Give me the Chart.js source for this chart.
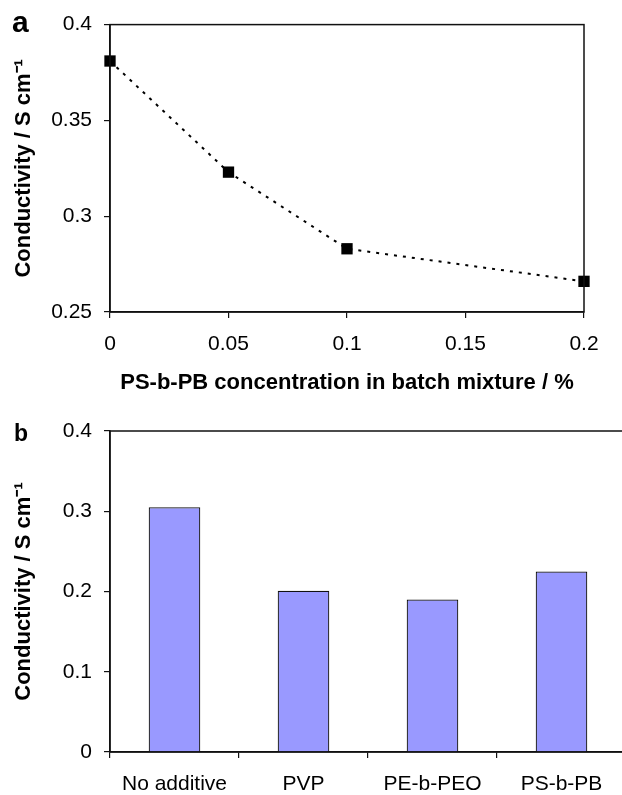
<!DOCTYPE html>
<html>
<head>
<meta charset="utf-8">
<script src="https://cdn.jsdelivr.net/npm/chart.js@4.4.0/dist/chart.umd.min.js"></script>
<style>
  html, body { margin: 0; padding: 0; background: #fff; overflow: hidden; }
  body { width: 622px; height: 795px; position: relative; }
  .panel { position: absolute; left: 0; }
  .letra { position: absolute; font-family: "Liberation Sans", Arial, sans-serif; font-weight: bold; line-height: 1; color: #000; }
</style>
</head>
<body>
<div class="panel" style="top:0"><canvas id="chartA" width="622" height="400"></canvas></div>
<div class="panel" style="top:400px"><canvas id="chartB" width="640" height="395"></canvas></div>
<div class="letra" style="left:12px; top:7px; font-size:30px">a</div>
<div class="letra" style="left:14px; top:422px; font-size:23px">b</div>
<script>
/* datos del panel a */
const concentraciones = [0, 0.05, 0.1, 0.2];
const conductividadA = [0.381, 0.323, 0.283, 0.266];
const ticksYA = [0.25, 0.3, 0.35, 0.4];
const ticksXA = [0, 0.05, 0.1, 0.15, 0.2];

/* datos del panel b */
const aditivos = ["No additive", "PVP", "PE-b-PEO", "PS-b-PB"];
const conductividadB = [0.305, 0.201, 0.190, 0.225];
const ticksYB = [0, 0.1, 0.2, 0.3, 0.4];

const fuente = "'Liberation Sans', Arial, sans-serif";
const tituloY = "Conductivity / S cm\u207B\u00B9";

function etiqueta(v) {
  return String(+Number(v).toFixed(4));
}

/* dibuja el marco alrededor del area del grafico */
const marco = {
  id: "marco",
  afterDraw(chart) {
    const a = chart.chartArea;
    const ctx = chart.ctx;
    ctx.save();
    ctx.strokeStyle = "#111";
    ctx.lineWidth = 1.5;
    ctx.strokeRect(a.left, a.top, a.right - a.left, a.bottom - a.top);
    ctx.restore();
  }
};

function ejeComun() {
  return {
    border: { display: true, color: "#111", width: 1.5 },
    grid: { display: true, drawOnChartArea: false, drawTicks: true, tickLength: 6, color: "#111", lineWidth: 1.2 },
    ticks: { color: "#000", font: { family: fuente, size: 21 } }
  };
}

function tituloEje(texto, relleno) {
  return {
    display: true,
    text: texto,
    color: "#000",
    font: { family: fuente, size: 22, weight: "bold" },
    padding: relleno
  };
}

/* GRAFICO a */
const ejeXA = ejeComun();
ejeXA.type = "linear";
ejeXA.min = 0;
ejeXA.max = 0.2;
ejeXA.afterBuildTicks = s => { s.ticks = ticksXA.map(v => ({ value: v })); };
ejeXA.afterFit = s => { s.height = 88; };
ejeXA.ticks.padding = 14;
ejeXA.ticks.callback = v => etiqueta(v);
ejeXA.title = tituloEje("PS-b-PB concentration in batch mixture / %", { top: 0, bottom: 4 });

const ejeYA = ejeComun();
ejeYA.min = 0.25;
ejeYA.max = 0.4;
ejeYA.afterBuildTicks = s => { s.ticks = ticksYA.map(v => ({ value: v })); };
ejeYA.afterFit = s => { s.width = 110; };
ejeYA.ticks.padding = 12;
ejeYA.ticks.callback = v => etiqueta(v);
ejeYA.title = tituloEje(tituloY, { top: 11, bottom: 0 });

new Chart(document.getElementById("chartA"), {
  type: "line",
  data: {
    datasets: [{
      data: concentraciones.map((x, i) => ({ x: x, y: conductividadA[i] })),
      borderColor: "#000",
      borderWidth: 2,
      borderDash: [3, 6],
      pointStyle: "rect",
      pointRadius: 8,
      pointBackgroundColor: "#000",
      pointBorderColor: "#000",
      pointBorderWidth: 0,
      tension: 0,
      clip: false
    }]
  },
  options: {
    responsive: false,
    animation: false,
    devicePixelRatio: 1,
    layout: { padding: { top: 20, right: 38, left: 0, bottom: 0 } },
    plugins: { legend: { display: false }, tooltip: { enabled: false } },
    scales: { x: ejeXA, y: ejeYA }
  },
  plugins: [marco]
});

/* GRAFICO b */
const ejeXB = ejeComun();
ejeXB.offset = true;
ejeXB.grid.offset = true;
ejeXB.afterFit = s => { s.height = 43; };
ejeXB.ticks.padding = 14;

const ejeYB = ejeComun();
ejeYB.min = 0;
ejeYB.max = 0.4;
ejeYB.afterBuildTicks = s => { s.ticks = ticksYB.map(v => ({ value: v })); };
ejeYB.afterFit = s => { s.width = 110; };
ejeYB.ticks.padding = 12;
ejeYB.ticks.callback = v => etiqueta(v);
ejeYB.title = tituloEje(tituloY, { top: 11, bottom: 0 });

new Chart(document.getElementById("chartB"), {
  type: "bar",
  data: {
    labels: aditivos,
    datasets: [{
      data: conductividadB,
      backgroundColor: "#9999FF",
      borderColor: "#111",
      borderWidth: 1.2,
      categoryPercentage: 1,
      barPercentage: 0.4
    }]
  },
  options: {
    responsive: false,
    animation: false,
    devicePixelRatio: 1,
    layout: { padding: { top: 31, right: 14, left: 0, bottom: 0 } },
    plugins: { legend: { display: false }, tooltip: { enabled: false } },
    scales: { x: ejeXB, y: ejeYB }
  },
  plugins: [marco]
});
</script>
</body>
</html>
